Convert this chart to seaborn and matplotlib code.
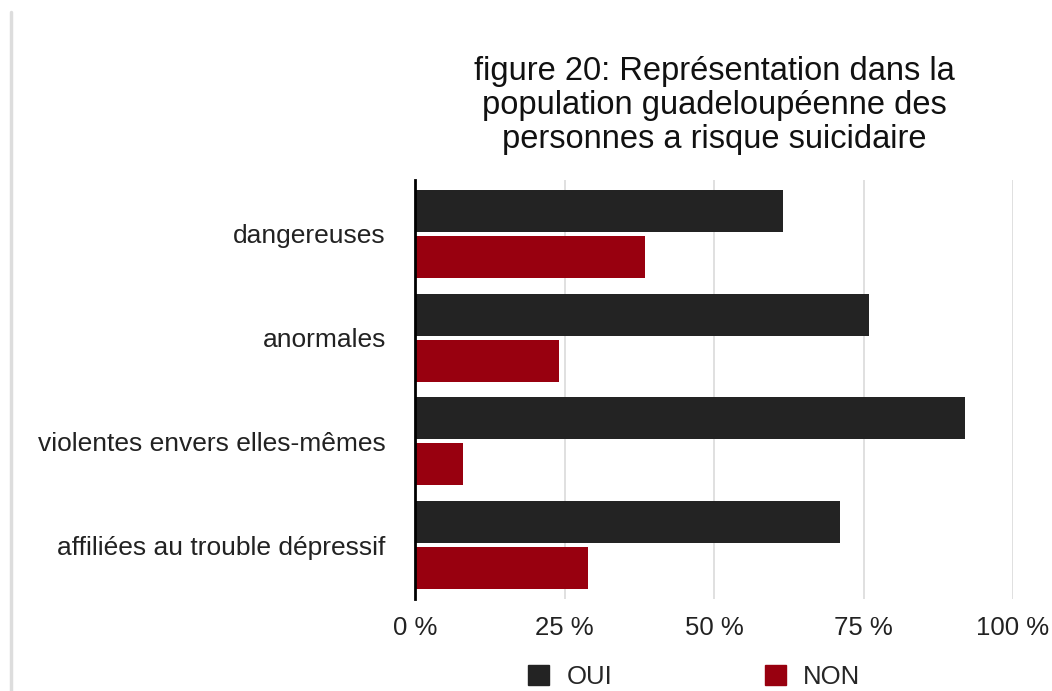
import matplotlib
matplotlib.use("Agg")
import matplotlib.pyplot as plt
import matplotlib.patches as mpatches
from matplotlib.lines import Line2D
import seaborn as sns
import pandas as pd

categories = ["dangereuses", "anormales", "violentes envers elles-mêmes",
              "affiliées au trouble dépressif"]
oui_values = [61.5, 76, 92, 71]
non_values = [38.5, 24, 8, 29]
series_names = ["OUI", "NON"]
tick_values = [0, 25, 50, 75, 100]
tick_labels = ["0 %", "25 %", "50 %", "75 %", "100 %"]
title = ("figure 20: Représentation dans la\n"
         "population guadeloupéenne des\n"
         "personnes a risque suicidaire")

colors = {"OUI": "#232323", "NON": "#98000f"}

df = pd.DataFrame({
    "cat": categories * 2,
    "val": oui_values + non_values,
    "rep": [series_names[0]] * len(categories) + [series_names[1]] * len(categories),
})

sns.set_theme(style="white")
plt.rcParams["font.family"] = ["Liberation Sans", "DejaVu Sans"]

fig = plt.figure(figsize=(10.52, 6.91), dpi=100)
ax = fig.add_axes([415 / 1052, 1 - 599 / 691, (1013 - 415) / 1052, (599 - 180) / 691])

sns.barplot(data=df, y="cat", x="val", hue="rep", orient="h",
            palette=colors, order=categories, hue_order=series_names,
            width=0.89, gap=0.09, ax=ax, legend=False, saturation=1,
            linewidth=0)

ax.set_xlim(0, 100)
ax.set_ylim(3.52, -0.52)
ax.set_xticks(tick_values)
ax.set_xticklabels(tick_labels, fontsize=18.5, color="#222222")
ax.tick_params(axis="y", labelsize=19, labelcolor="#222222", length=0, pad=21)
ax.tick_params(axis="x", length=0, pad=12)
ax.set_xlabel("")
ax.set_ylabel("")
ax.xaxis.grid(True, color="#dddddd", linewidth=1.3)
ax.set_axisbelow(True)
for s in ["top", "right", "bottom"]:
    ax.spines[s].set_visible(False)
ax.spines["left"].set_color("black")
ax.spines["left"].set_linewidth(2)
ax.spines["left"].set_zorder(5)

ax.set_title(title, fontsize=23.5, color="#111111", pad=23, linespacing=1.12)

handles = [mpatches.Patch(color=colors[n], label=n) for n in series_names]
fig.legend(handles=handles, loc="center", bbox_to_anchor=(0.660, 0.02),
           ncol=2, frameon=False, fontsize=18.5, handlelength=0.82,
           handleheight=0.82, handletextpad=0.66, columnspacing=5.95)

fig.add_artist(Line2D([11 / 1052, 11 / 1052], [0, 1 - 12 / 691],
                      transform=fig.transFigure, color="#dddddd", linewidth=2.5))

fig.savefig("out.png", dpi=100)
